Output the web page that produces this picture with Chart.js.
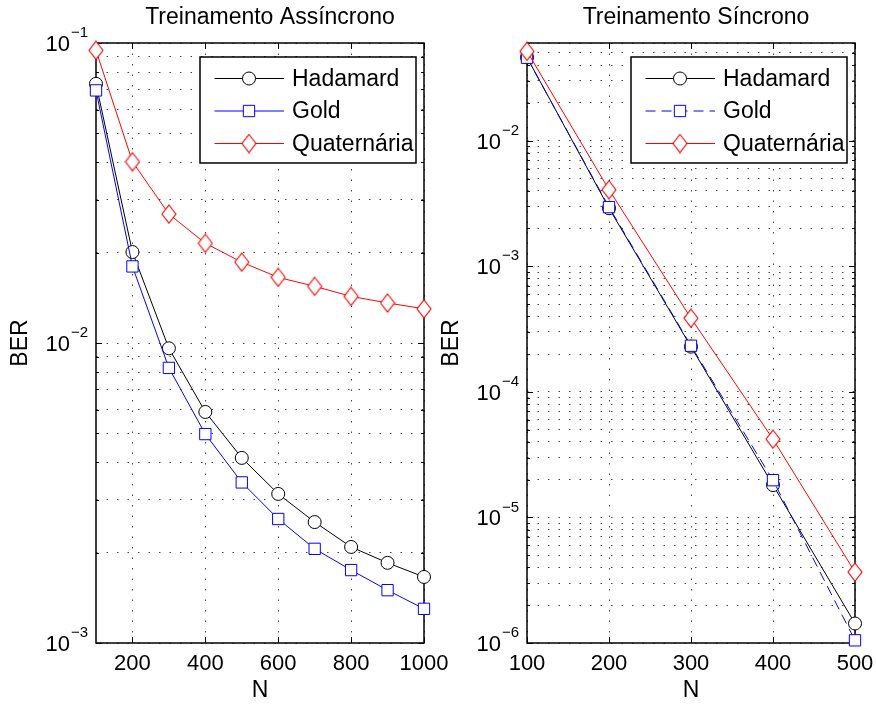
<!DOCTYPE html>
<html>
<head>
<meta charset="utf-8">
<script src="https://cdn.jsdelivr.net/npm/chart.js@4.4.0/dist/chart.umd.min.js"></script>
<style>
  html, body { margin: 0; padding: 0; background: #fff; }
  #wrap { position: relative; width: 876px; height: 704px; }
  .panel { position: absolute; top: 0; height: 704px; }
</style>
</head>
<body>
<div id="wrap">
  <div class="panel" style="left:0;width:470px"><canvas id="chart-async"></canvas></div>
  <div class="panel" style="left:440px;width:436px"><canvas id="chart-sync"></canvas></div>
</div>
<script>
// ===== BER x N — treinamento assíncrono / síncrono =====
const FONT = '"Liberation Sans", Arial, Helvetica, sans-serif';

const seriesNames = ['Hadamard', 'Gold', 'Quaternária'];

// Treinamento Assíncrono
const nAsync = [100, 200, 300, 400, 500, 600, 700, 800, 900, 1000];
const hadamardAsync = [0.0731, 0.0201, 0.0096, 0.00589, 0.00414, 0.00314, 0.00253, 0.00209, 0.00185, 0.00166];
const goldAsync = [0.0695, 0.0180, 0.00826, 0.00497, 0.00343, 0.00259, 0.00206, 0.00175, 0.00150, 0.00130];
const quatAsync = [0.0945, 0.0402, 0.0269, 0.0215, 0.0186, 0.01655, 0.01545, 0.0143, 0.0136, 0.0130];
const xTicksAsync = [200, 400, 600, 800, 1000];
const yDecadesAsync = [1e-3, 1e-2, 1e-1];

// Treinamento Síncrono
const nSync = [100, 200, 300, 400, 500];
const hadamardSync = [0.0461, 0.00290, 0.000229, 1.81e-5, 1.43e-6];
const goldSync = [0.0458, 0.00296, 0.000233, 1.98e-5, 1.05e-6];
const quatSync = [0.0515, 0.00407, 0.000386, 4.2e-5, 3.67e-6];
const xTicksSync = [100, 200, 300, 400, 500];
const yDecadesSync = [1e-6, 1e-5, 1e-4, 1e-3, 1e-2];

const GRID = '#444';

function logTicks(decades, min, max) {
  const out = [];
  decades.forEach(d => {
    for (let k = 1; k <= 9; k++) {
      const v = k * d;
      if (v >= min * 0.999 && v <= max * 1.001) out.push({ value: v, major: k === 1 });
    }
  });
  return out;
}

function diamondImage(color) {
  const c = document.createElement('canvas');
  c.width = 16; c.height = 20;
  const g = c.getContext('2d');
  g.beginPath();
  g.moveTo(8, 1); g.lineTo(15, 10); g.lineTo(8, 19); g.lineTo(1, 10); g.closePath();
  g.fillStyle = '#fff'; g.fill();
  g.strokeStyle = color; g.lineWidth = 1.1; g.stroke();
  return c;
}

function drawMarker(ctx, ds, x, y) {
  const style = ds.pointStyle, r = ds.pointRadius;
  ctx.save();
  ctx.lineWidth = ds.pointBorderWidth;
  ctx.strokeStyle = ds.pointBorderColor;
  ctx.fillStyle = ds.pointBackgroundColor;
  if (typeof style !== 'string') {
    ctx.drawImage(style, x - style.width / 2, y - style.height / 2);
  } else {
    ctx.beginPath();
    if (style === 'circle') ctx.arc(x, y, r, 0, Math.PI * 2);
    else { const s = r * Math.SQRT1_2; ctx.rect(x - s, y - s, 2 * s, 2 * s); }
    ctx.fill(); ctx.stroke();
  }
  ctx.restore();
}

// moldura, ticks internos, rótulos 10^n, título, legenda
const matlabAxes = {
  id: 'matlabAxes',
  beforeDatasetsDraw(chart) {
    const { ctx, chartArea: a, scales } = chart;
    ctx.save();
    ctx.strokeStyle = '#000';
    ctx.lineWidth = 1;
    ctx.beginPath();
    scales.y.ticks.forEach(t => {
      const y = Math.round(scales.y.getPixelForValue(t.value)) + 0.5;
      const len = t.major ? 6 : 3;
      ctx.moveTo(a.left, y); ctx.lineTo(a.left + len, y);
      ctx.moveTo(a.right, y); ctx.lineTo(a.right - len, y);
    });
    scales.x.ticks.forEach(t => {
      const x = Math.round(scales.x.getPixelForValue(t.value)) + 0.5;
      ctx.moveTo(x, a.bottom); ctx.lineTo(x, a.bottom - 6);
      ctx.moveTo(x, a.top); ctx.lineTo(x, a.top + 6);
    });
    ctx.stroke();
    ctx.lineWidth = 1.5;
    ctx.strokeRect(a.left, a.top, a.right - a.left, a.bottom - a.top);
    ctx.restore();
  },
  afterDraw(chart, args, opts) {
    const { ctx, chartArea: a, scales } = chart;
    ctx.save();
    ctx.fillStyle = '#000';
    ctx.textBaseline = 'middle';

    // rótulos do eixo y: 10 com expoente
    opts.yDecades.forEach(v => {
      const y = scales.y.getPixelForValue(v);
      const sup = '\u2212' + Math.abs(Math.round(Math.log10(v)));
      ctx.font = `15px ${FONT}`;
      const supW = ctx.measureText(sup).width;
      const xr = a.left - 8;
      ctx.textAlign = 'left';
      ctx.fillText(sup, xr - supW, y - 10);
      ctx.font = `22px ${FONT}`;
      ctx.textAlign = 'right';
      ctx.fillText('10', xr - supW - 1, y + 2);
    });

    const cx = (a.left + a.right) / 2;
    ctx.textAlign = 'center';
    ctx.font = `23px ${FONT}`;
    ctx.fillText(opts.title, cx + opts.titleDx, 18);
    ctx.fillText('N', cx, 691);
    ctx.save();
    ctx.translate(a.left - 75, (a.top + a.bottom) / 2);
    ctx.rotate(-Math.PI / 2);
    ctx.fillText('BER', 0, 0);
    ctx.restore();

    // legenda
    const bw = 216, bh = 106;
    const bx = a.right - 8 - bw, by = a.top + 14;
    ctx.fillStyle = '#fff';
    ctx.fillRect(bx, by, bw, bh);
    ctx.lineWidth = 1.5;
    ctx.strokeStyle = '#000';
    ctx.strokeRect(bx, by, bw, bh);
    chart.data.datasets.forEach((ds, i) => {
      const y = by + 21.5 + i * 32.5;
      ctx.save();
      ctx.strokeStyle = ds.borderColor;
      ctx.lineWidth = ds.borderWidth;
      ctx.setLineDash(ds.borderDash || []);
      ctx.beginPath();
      ctx.moveTo(bx + 14.5, y); ctx.lineTo(bx + 84, y);
      ctx.stroke();
      ctx.restore();
      drawMarker(ctx, ds, bx + 49, y);
      ctx.fillStyle = '#000';
      ctx.font = `23px ${FONT}`;
      ctx.textAlign = 'left';
      ctx.fillText(ds.label, bx + 92, y + 1);
    });
    ctx.restore();
  }
};

function makeDatasets(xs, had, gold, quat, goldDash) {
  const pts = ys => xs.map((x, i) => ({ x, y: ys[i] }));
  const base = { borderWidth: 1, pointBorderWidth: 1, pointBackgroundColor: '#fff', clip: false, tension: 0 };
  return [
    { ...base, label: seriesNames[0], data: pts(had), borderColor: '#000', pointBorderColor: '#000',
      pointStyle: 'circle', pointRadius: 6.5, order: 2 },
    { ...base, label: seriesNames[1], data: pts(gold), borderColor: '#0000ff', pointBorderColor: '#0000ff',
      pointStyle: 'rect', pointRadius: 8, borderDash: goldDash, order: 1 },
    { ...base, label: seriesNames[2], data: pts(quat), borderColor: '#ff0000', pointBorderColor: '#ff0000',
      pointStyle: diamondImage('#ff0000'), pointRadius: 9, order: 0 }
  ];
}

function createBerChart(id, cfg) {
  const ctx = document.getElementById(id).getContext('2d');
  const gridOpts = { color: GRID, lineWidth: 1, drawTicks: false };
  const borderOpts = { display: false, dash: [1.5, 9] };
  return new Chart(ctx, {
    type: 'line',
    data: { datasets: cfg.datasets },
    plugins: [matlabAxes],
    options: {
      responsive: true,
      maintainAspectRatio: false,
      animation: false,
      events: [],
      layout: { padding: { left: cfg.padLeft, right: cfg.padRight, top: 43, bottom: 21 } },
      plugins: {
        legend: { display: false },
        tooltip: { enabled: false },
        matlabAxes: { title: cfg.title, titleDx: cfg.titleDx, yDecades: cfg.yDecades }
      },
      scales: {
        x: {
          type: 'linear',
          min: cfg.xMin,
          max: cfg.xMax,
          afterFit: s => { s.height = 40; s.paddingLeft = 0; s.paddingRight = 0; },
          afterBuildTicks: s => { s.ticks = cfg.xTicks.map(v => ({ value: v })); },
          grid: gridOpts,
          border: borderOpts,
          ticks: { color: '#000', font: { family: FONT, size: 22 }, padding: 8, autoSkip: false, maxRotation: 0,
                   callback: v => String(v) }
        },
        y: {
          type: 'logarithmic',
          min: cfg.yMin,
          max: cfg.yMax,
          afterFit: s => { s.width = 0; s.paddingTop = 0; s.paddingBottom = 0; },
          afterBuildTicks: s => { s.ticks = logTicks(cfg.yDecades, cfg.yMin, cfg.yMax); },
          grid: gridOpts,
          border: borderOpts,
          ticks: { display: false }
        }
      }
    }
  });
}

createBerChart('chart-async', {
  title: 'Treinamento Assíncrono', titleDx: 10,
  datasets: makeDatasets(nAsync, hadamardAsync, goldAsync, quatAsync, []),
  xMin: 100, xMax: 1000, xTicks: xTicksAsync,
  yMin: 1e-3, yMax: 1e-1, yDecades: yDecadesAsync,
  padLeft: 96, padRight: 46
});

createBerChart('chart-sync', {
  title: 'Treinamento Síncrono', titleDx: 5,
  datasets: makeDatasets(nSync, hadamardSync, goldSync, quatSync, [10, 6]),
  xMin: 100, xMax: 500, xTicks: xTicksSync,
  yMin: 1e-6, yMax: 0.06, yDecades: yDecadesSync,
  padLeft: 87, padRight: 21
});
</script>
</body>
</html>
